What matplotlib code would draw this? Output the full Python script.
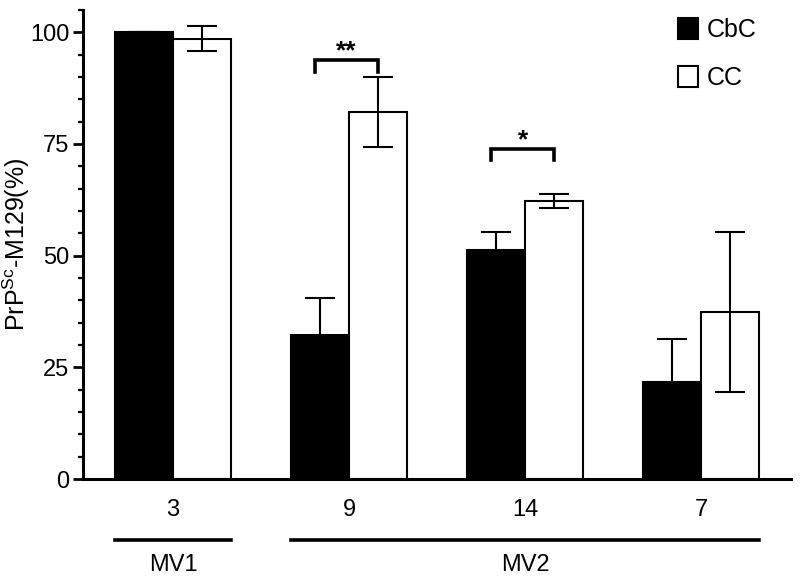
import numpy as np
import matplotlib
matplotlib.use("Agg")
import matplotlib.pyplot as plt
from matplotlib.transforms import blended_transform_factory

plt.rcParams['font.family'] = ['Liberation Sans', 'DejaVu Sans']
plt.rcParams['mathtext.default'] = 'regular'

# data
groups = ["3", "9", "14", "7"]
cbc_mean = [100.0, 32.3, 51.3, 21.8]
cbc_err = [0.0, 8.3, 4.1, 9.5]
cc_mean = [98.5, 82.1, 62.2, 37.4]
cc_err = [2.8, 7.8, 1.6, 17.9]

# genotype bands under the axis: (label, first group, last group)
bands = [("MV1", 0, 0), ("MV2", 1, 3)]

# significance brackets: (group index, height, tip drop, label)
brackets = [(1, 93.7, 2.7, "**"), (2, 73.8, 2.5, "*")]

x = np.arange(len(groups))
w = 0.33

fig = plt.figure(figsize=(8, 5.8), dpi=100)
ax = fig.add_axes([0.104, 0.174, 0.885, 0.809])

b1 = ax.bar(x - w / 2, cbc_mean, w, color="black", edgecolor="black",
            linewidth=1.5, label="CbC", zorder=2)
b2 = ax.bar(x + w / 2, cc_mean, w, color="white", edgecolor="black",
            linewidth=1.5, label="CC", zorder=2)
ax.errorbar(x - w / 2, cbc_mean, yerr=cbc_err, fmt="none", ecolor="black",
            elinewidth=1.5, capsize=10.5, capthick=1.5, zorder=3)
ax.errorbar(x + w / 2, cc_mean, yerr=cc_err, fmt="none", ecolor="black",
            elinewidth=1.5, capsize=10.5, capthick=1.5, zorder=3)

for gi, h, drop, lab in brackets:
    xl, xr = gi - w / 2 - 0.03, gi + w / 2
    ax.plot([xl, xl, xr, xr], [h - drop, h, h, h - drop], color="black",
            linewidth=2.6, solid_joinstyle="miter", zorder=3)
    ax.text((xl + xr) / 2, h - 0.6, lab, ha="center", va="bottom",
            fontsize=19, fontweight="bold")

ax.set_xlim(-0.51, 3.51)
ax.set_ylim(0, 105)
ax.set_yticks([0, 25, 50, 75, 100])
ax.set_yticks(np.arange(0, 106, 5), minor=True)
ax.set_xticks(x)
ax.set_xticklabels(groups)
ax.tick_params(axis="x", length=0, pad=14, labelsize=17)
ax.tick_params(axis="y", which="major", length=7, width=2, labelsize=17, pad=3)
ax.tick_params(axis="y", which="minor", length=3.5, width=1.6)
for s in ["top", "right"]:
    ax.spines[s].set_visible(False)
for s in ["left", "bottom"]:
    ax.spines[s].set_linewidth(2.2)

ax.set_ylabel("PrP$^{Sc}$-M129(%)", fontsize=18)
ax.yaxis.set_label_coords(-0.072, 0.5)

trans = blended_transform_factory(ax.transData, ax.transAxes)
for lab, g0, g1 in bands:
    x0 = x[g0] - w
    x1 = x[g1] + w
    ax.plot([x0, x1], [-0.13, -0.13], color="black", linewidth=2.6,
            transform=trans, clip_on=False)
    ax.text((x0 + x1) / 2, -0.16, lab, ha="center", va="top", fontsize=17,
            transform=trans)

ax.legend(handles=[b1, b2], loc="upper right", bbox_to_anchor=(0.965, 1.003),
          frameon=False, fontsize=18, handlelength=0.8, handleheight=0.9,
          handletextpad=0.35, labelspacing=0.95, borderaxespad=0.0)

fig.savefig("out.png", dpi=100)
